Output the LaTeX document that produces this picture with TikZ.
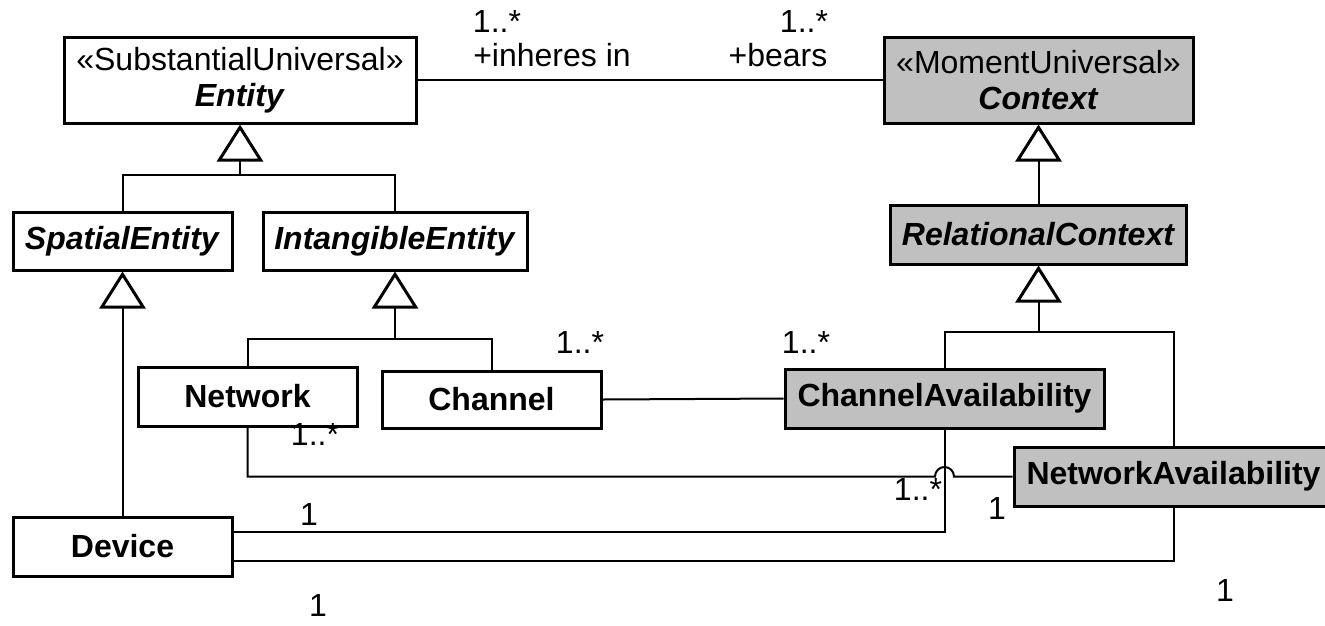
\documentclass[tikz,border=0pt]{standalone}
\usepackage{fontspec}
\setmainfont{Liberation Sans}
\usetikzlibrary{arrows.meta}
\definecolor{ctxgray}{RGB}{192,192,192}
\begin{document}
\begin{tikzpicture}[x=1pt,y=-1pt,
  cls/.style={draw, line width=3pt, fill=white, inner sep=0pt, align=center,
    font=\fontsize{32}{36}\selectfont\bfseries},
  ctx/.style={cls, fill=ctxgray},
  assoc/.style={line width=2pt},
  gen/.style={assoc, -{Triangle[open, length=37pt, width=46pt, line width=3pt]}},
  mult/.style={inner sep=0pt, font=\fontsize{32}{36}\selectfont}]
\useasboundingbox (0,0) rectangle (1325,625);
\clip (0,0) rectangle (1325,625);

% classes
\node[cls, minimum width=352pt, minimum height=86pt] (entity) at (240,80)
  {{\mdseries «SubstantialUniversal»}\\\textit{Entity}};
\node[ctx, minimum width=309pt, minimum height=86pt] (context) at (1038.5,80)
  {{\mdseries «MomentUniversal»}\\\textit{Context}};
\node[cls, minimum width=219pt, minimum height=58pt] (spatial) at (122.5,241) {\textit{SpatialEntity}};
\node[cls, minimum width=264pt, minimum height=58pt] (intang) at (395,241) {\textit{IntangibleEntity}};
\node[ctx, minimum width=296pt, minimum height=59pt] (relctx) at (1038.5,234.5) {\textit{RelationalContext}};
\node[cls, minimum width=219pt, minimum height=59pt] (network) at (247.5,396.5) {Network};
\node[cls, minimum width=219pt, minimum height=57pt] (channel) at (491.5,399.5) {Channel};
\node[ctx, minimum width=319pt, minimum height=59pt] (chav) at (944.5,398.5) {ChannelAvailability};
\node[ctx, minimum width=319pt, minimum height=59pt] (netav) at (1173.5,476.5) {NetworkAvailability};
\node[cls, minimum width=219pt, minimum height=59pt] (device) at (122.5,546.5) {Device};

% generalizations
\coordinate (e1) at (240,175);
\draw[assoc] (spatial.north) |- (e1) -| (intang.north);
\draw[gen] (e1) -- (entity.south);
\coordinate (i1) at (395,339);
\draw[assoc] (network.north) |- (i1) -| (channel.north);
\draw[gen] (i1) -- (intang.south);
\draw[gen] (device.north) -- (spatial.south);
\draw[gen] (relctx.north) -- (context.south);
\coordinate (r1) at (1038.5,332);
\draw[assoc] (chav.north) |- (r1) -| (netav.north);
\draw[gen] (r1) -- (relctx.south);

% associations
\draw[assoc] (entity.east) -- (context.west);
\draw[assoc] (channel.east) -- (chav.west);
\coordinate (j1) at (935,476.5);
\draw[assoc] (network.south) |- (j1) arc[start angle=180, end angle=360, radius=9.5] -- (netav.west);
\draw[assoc] ([yshift=14.5pt]device.east) -| (chav.south);
\draw[assoc] ([yshift=-14.5pt]device.east) -| (netav.south);

% role names and multiplicities
\node[mult] (m1) at (497,21) {1..*};
\node[mult] (r1n) at (552,55) {+inheres in};
\node[mult] (m2) at (804,21) {1..*};
\node[mult] (r2n) at (778,55) {+bears};
\node[mult] (m3) at (580,342) {1..*};
\node[mult] (m4) at (806,342) {1..*};
\node[mult] (m5) at (315,434) {1..*};
\node[mult] (m6) at (918,489) {1..*};
\node[mult] (m7) at (997,508) {1};
\node[mult] (m8) at (309,514) {1};
\node[mult] (m9) at (1225,590) {1};
\node[mult] (m10) at (318,605) {1};
\end{tikzpicture}
\end{document}
